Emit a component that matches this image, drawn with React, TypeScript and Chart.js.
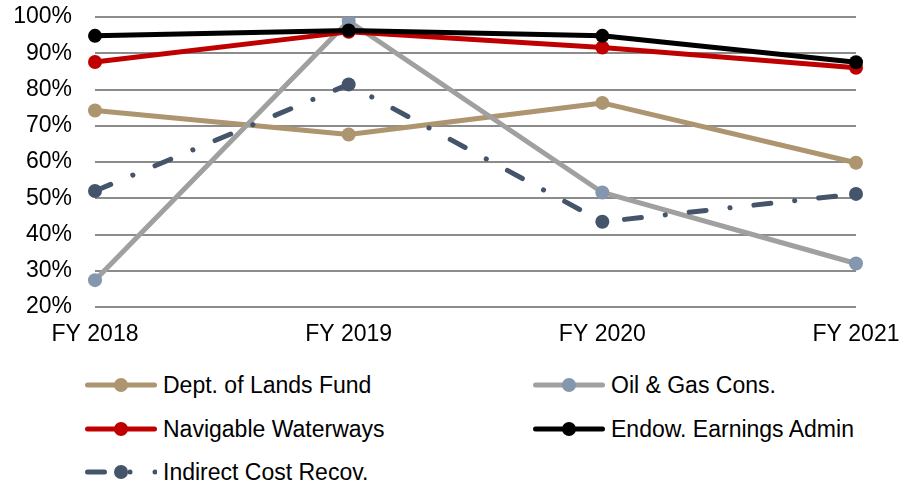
import React, { useEffect, useRef } from "react";
import { Chart, registerables } from "chart.js";

Chart.register(...registerables);

const categories = ["FY 2018", "FY 2019", "FY 2020", "FY 2021"];
const deptLandsFund = [74.2, 67.6, 76.3, 59.8];
const oilGasCons = [27.4, 98.9, 51.6, 32.0];
const navigableWaterways = [87.6, 95.9, 91.6, 86.0];
const endowEarningsAdmin = [94.8, 96.3, 94.8, 87.5];
const indirectCostRecov = [52.0, 81.4, 43.5, 51.2];
const seriesLabels = [
  "Dept. of Lands Fund",
  "Oil & Gas Cons.",
  "Navigable Waterways",
  "Endow. Earnings Admin",
  "Indirect Cost Recov.",
];
const yMin = 20;
const yMax = 100;
const yStep = 10;

const FONT = "'Liberation Sans', Arial, sans-serif";

const styles = [
  { line: "#AD9570", point: "#AD9570", dash: [] as number[] },
  { line: "#A0A0A0", point: "#8497AE", dash: [] as number[] },
  { line: "#C00000", point: "#C00000", dash: [] as number[] },
  { line: "#000000", point: "#000000", dash: [] as number[] },
  { line: "#44546A", point: "#44546A", dash: [17, 24, 0.1, 24] },
];

const seriesData = [deptLandsFund, oilGasCons, navigableWaterways, endowEarningsAdmin, indirectCostRecov];

function LegendSample({ idx }: { idx: number }) {
  const s = styles[idx];
  if (idx === 4) {
    return (
      <svg width={72} height={20} style={{ display: "block" }}>
        <line x1={2.5} y1={10} x2={19.5} y2={10} stroke={s.line} strokeWidth={5} strokeLinecap="round" />
        <circle cx={36} cy={10} r={7} fill={s.point} />
        <circle cx={45} cy={10} r={2.5} fill={s.point} />
        <circle cx={70} cy={10} r={2.5} fill={s.point} />
      </svg>
    );
  }
  return (
    <svg width={72} height={20} style={{ display: "block" }}>
      <line x1={2.5} y1={10} x2={69.5} y2={10} stroke={s.line} strokeWidth={5} strokeLinecap="round" />
      <circle cx={36} cy={10} r={7} fill={s.point} />
    </svg>
  );
}

export default function App() {
  const ref = useRef<HTMLCanvasElement>(null);

  useEffect(() => {
    const chart = new Chart(ref.current!, {
      type: "line",
      data: {
        labels: categories,
        datasets: seriesData.map((d, i) => ({
          label: seriesLabels[i],
          data: d,
          borderColor: styles[i].line,
          backgroundColor: styles[i].point,
          pointBackgroundColor: styles[i].point,
          pointBorderColor: styles[i].point,
          pointBorderWidth: 0,
          pointRadius: 7,
          pointHoverRadius: 7,
          borderWidth: 5,
          borderDash: styles[i].dash,
          borderCapStyle: "round",
          borderJoinStyle: "round",
          tension: 0,
          fill: false,
          order: 10 - i,
        })),
      },
      options: {
        responsive: false,
        animation: false,
        layout: { padding: { left: 0, right: 46, top: 17, bottom: 0 } },
        plugins: { legend: { display: false }, tooltip: { enabled: false } },
        scales: {
          x: {
            offset: false,
            grid: {
              display: true,
              color: "rgba(0,0,0,0)",
              drawTicks: true,
              tickLength: 14,
              tickColor: "rgba(0,0,0,0)",
            },
            border: { display: false },
            ticks: {
              color: "#000",
              font: { family: FONT, size: 23 },
              padding: 0,
              maxRotation: 0,
              autoSkip: false,
            },
            afterFit: (s: any) => {
              s.height = 43;
            },
          },
          y: {
            min: yMin,
            max: yMax,
            ticks: {
              stepSize: yStep,
              callback: (v: any) => v + "%",
              color: "#000",
              font: { family: FONT, size: 23 },
              padding: 0,
            },
            grid: {
              color: "#8c8c8c",
              lineWidth: 2,
              drawTicks: true,
              tickLength: 23,
              tickColor: "rgba(0,0,0,0)",
            },
            border: { display: false },
            afterFit: (s: any) => {
              s.width = 95;
            },
          },
        },
      },
    } as any);
    return () => chart.destroy();
  }, []);

  const legendPos = [
    { left: 85, top: 385 },
    { left: 533, top: 385 },
    { left: 85, top: 429 },
    { left: 533, top: 429 },
    { left: 85, top: 472 },
  ];

  return (
    <div style={{ position: "absolute", left: 0, top: 0, width: 902, height: 485, background: "#fff", overflow: "hidden" }}>
      <canvas ref={ref} width={902} height={350} style={{ position: "absolute", left: 0, top: 0, width: 902, height: 350 }} />
      {seriesLabels.map((lab, i) => (
        <div
          key={lab}
          style={{
            position: "absolute",
            left: legendPos[i].left,
            top: legendPos[i].top - 14,
            height: 28,
            display: "flex",
            alignItems: "center",
            fontFamily: FONT,
            fontSize: 23,
            color: "#000",
            whiteSpace: "nowrap",
          }}
        >
          <LegendSample idx={i} />
          <span style={{ marginLeft: 6 }}>{lab}</span>
        </div>
      ))}
    </div>
  );
}
